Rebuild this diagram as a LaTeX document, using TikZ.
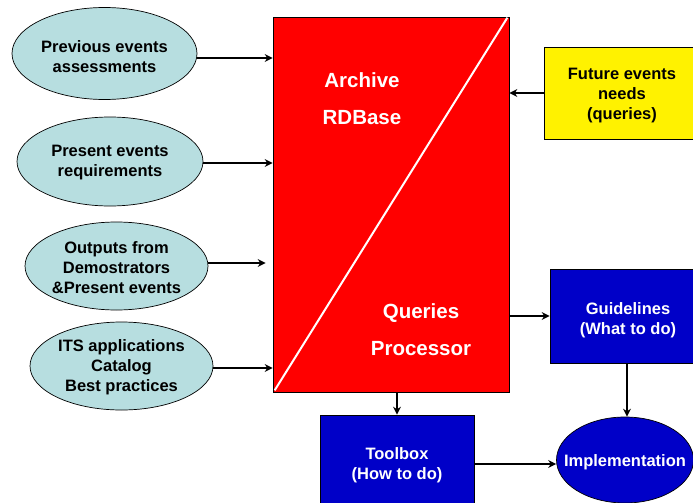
\documentclass[tikz,border=0pt]{standalone}
\usepackage{fontspec}
\setmainfont{Liberation Sans}
\usetikzlibrary{shapes.geometric,arrows.meta}
\definecolor{lblue}{HTML}{B7DEE0}
\definecolor{dblue}{HTML}{0000C8}
\tikzset{
  inell/.style={ellipse, draw=black, line width=0.7pt, fill=lblue, inner sep=0pt},
  boxshape/.style={rectangle, draw=black, line width=0.7pt, inner sep=0pt},
  txt/.style={align=center, inner sep=0pt, font=\fontsize{16.5}{20}\selectfont\bfseries},
  wtxt/.style={txt, text=white},
  bigtxt/.style={align=center, text=white, inner sep=0pt,
    font=\fontsize{20.5}{37}\selectfont\bfseries},
  arr/.style={line width=2.6pt, -{Stealth[length=8pt,width=8pt]}}
}
\begin{document}
\begin{tikzpicture}[x=1pt,y=-1pt]
\useasboundingbox (0,0) rectangle (693,503);
\clip (0,0) rectangle (693,503);
\fill[white] (0,0) rectangle (693,503);
% main red block
\node[boxshape, fill=red, minimum width=236pt, minimum height=375pt] (rect) at (391,204.5) {};
\draw[white, line width=2pt] ([shift={(2pt,2pt)}]rect.south west) -- ([shift={(-2pt,-1pt)}]rect.north east);
\node[bigtxt] (arch) at (362,99) {Archive\\RDBase};
\node[bigtxt] (qp) at (421,330) {Queries\\Processor};
% left ellipses
\node[inell, minimum width=185pt, minimum height=92pt] (e1) at (104.5,53.5) {};
\node[txt] (e1t) at (104.5,57) {Previous events\\assessments};
\node[inell, minimum width=186pt, minimum height=89pt] (e2) at (110,161.5) {};
\node[txt] (e2t) at (110,163) {Present events\\requirements};
\node[inell, minimum width=183pt, minimum height=88pt] (e3) at (116.5,266) {};
\node[txt] (e3t) at (116.5,268) {Outputs from\\Demostrators\\\&Present events};
\node[inell, minimum width=183pt, minimum height=88pt] (e4) at (121.5,366) {};
\node[txt] (e4t) at (121.5,367) {ITS applications\\Catalog\\Best practices};
% right / bottom boxes
\node[boxshape, fill=yellow, minimum width=156pt, minimum height=92pt] (fut) at (622,93) {};
\node[txt] (futt) at (622,96) {Future events\\needs\\(queries)};
\node[boxshape, fill=dblue, minimum width=156pt, minimum height=94pt] (gl) at (628,316) {};
\node[wtxt] (glt) at (628,320) {Guidelines\\(What to do)};
\node[boxshape, fill=dblue, minimum width=154pt, minimum height=96pt] (tb) at (397,463) {};
\node[wtxt] (tbt) at (397,465) {Toolbox\\(How to do)};
\node[ellipse, draw=black, line width=0.7pt, fill=dblue, inner sep=0pt, minimum width=137pt, minimum height=86pt] (impl) at (625,460) {};
\node[wtxt] (implt) at (625,462) {Implementation};
% connectors
\draw[arr] ([yshift=-4.5pt]e1.east) -- ([yshift=-4.5pt]e1.east -| rect.west);
\draw[arr] ([yshift=-1.5pt]e2.east) -- ([yshift=-1.5pt]e2.east -| rect.west);
\coordinate (e3end) at ([xshift=-7pt]rect.west |- e3.east);
\draw[arr] ([yshift=3pt]e3.east) -- ([yshift=3pt]e3end);
\draw[arr] ([yshift=-2pt]e4.east) -- ([yshift=-2pt]e4.east -| rect.west);
\draw[arr] (fut.west) -- (fut.west -| rect.east);
\draw[arr] (rect.east |- gl.west) -- (gl.west);
\draw[arr] (rect.south -| tb.north) -- (tb.north);
\draw[arr] ([xshift=-1pt]gl.south) -- ([xshift=-1pt]gl.south |- impl.north);
\draw[arr] ([yshift=-1pt]tb.east) -- ([yshift=-1pt]tb.east -| impl.west);
\end{tikzpicture}
\end{document}
